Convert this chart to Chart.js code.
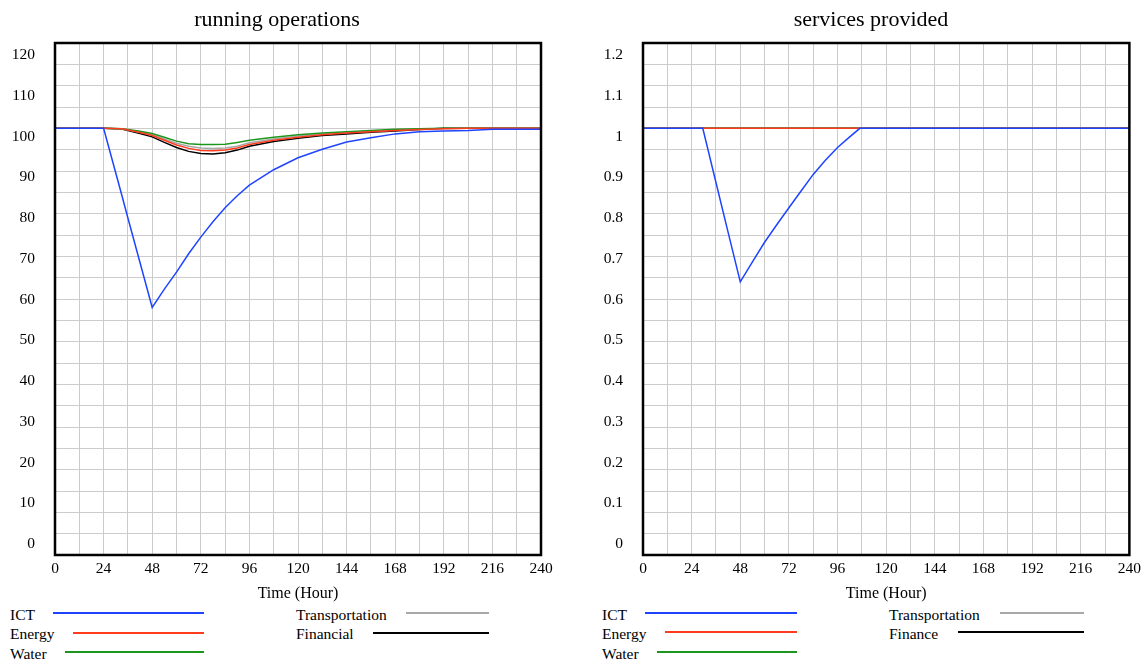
<!DOCTYPE html>
<html>
<head>
<meta charset="utf-8">
<title>running operations / services provided</title>
<script src="https://cdn.jsdelivr.net/npm/chart.js@4.4.1/dist/chart.umd.min.js"></script>
<style>
  body { margin: 0; background: #fff; }
  #page { position: relative; width: 1146px; height: 661px; overflow: hidden;
          font-family: "Liberation Serif", "Times New Roman", serif; color: #000; }
  .panel { position: absolute; top: 0; }
  .title { position: absolute; top: 6px; font-size: 22px; line-height: 26px;
           transform: translateX(-50%); white-space: nowrap; }
  .lg { position: absolute; font-size: 15.5px; line-height: 18px; white-space: nowrap; }
  .ln { position: absolute; height: 2px; }
</style>
</head>
<body>
<div id="page">
  <canvas id="opsChart" class="panel" style="left:0" width="573" height="605"></canvas>
  <canvas id="servChart" class="panel" style="left:573px" width="573" height="605"></canvas>

  <div class="title" style="left:277px">running operations</div>
  <div class="title" style="left:871px">services provided</div>

  <!-- legenda kiri -->
  <div class="lg" style="left:10px;top:606px">ICT</div>
  <div class="ln" style="left:53px;width:151px;top:612px;background:#1f44ff"></div>
  <div class="lg" style="left:10px;top:625px">Energy</div>
  <div class="ln" style="left:73px;width:131px;top:632px;background:#ff3c1e"></div>
  <div class="lg" style="left:10px;top:645px">Water</div>
  <div class="ln" style="left:65px;width:139px;top:651px;background:#1e961e"></div>
  <div class="lg" style="left:296px;top:606px">Transportation</div>
  <div class="ln" style="left:406px;width:83px;top:612px;background:#a8a8a8"></div>
  <div class="lg" style="left:296px;top:625px">Financial</div>
  <div class="ln" style="left:373px;width:116px;top:632px;background:#000"></div>

  <!-- legenda kanan -->
  <div class="lg" style="left:602px;top:606px">ICT</div>
  <div class="ln" style="left:645px;width:152px;top:612px;background:#1f44ff"></div>
  <div class="lg" style="left:602px;top:625px">Energy</div>
  <div class="ln" style="left:665px;width:132px;top:631px;background:#ff3c1e"></div>
  <div class="lg" style="left:602px;top:645px">Water</div>
  <div class="ln" style="left:657px;width:140px;top:651px;background:#1e961e"></div>
  <div class="lg" style="left:889px;top:606px">Transportation</div>
  <div class="ln" style="left:1000px;width:84px;top:612px;background:#a8a8a8"></div>
  <div class="lg" style="left:889px;top:625px">Finance</div>
  <div class="ln" style="left:958px;width:126px;top:631px;background:#000"></div>
</div>

<script>
// Data grafik kiri: running operations (jam)
const hours = [0, 24, 33, 36, 42, 48, 54, 60, 66, 72, 78, 84, 90, 96, 108, 120, 132, 144, 156, 168, 180, 192, 204, 216, 228, 240];
const ictOps       = [100, 100, 84.3, 79, 68.5, 58, 62.3, 66.3, 70.6, 74.5, 78.1, 81.4, 84.2, 86.7, 90.3, 93.1, 95.1, 96.8, 97.8, 98.7, 99.2, 99.4, 99.5, 99.8, 99.8, 99.8];
const energyOps    = [100, 100, 99.9, 99.6, 99.0, 98.3, 97.2, 96.1, 95.3, 94.8, 94.75, 94.9, 95.4, 96.2, 97.2, 97.9, 98.5, 98.9, 99.2, 99.5, 99.7, 99.9, 100, 100, 100, 100];
const waterOps     = [100, 100, 99.9, 99.7, 99.3, 98.8, 97.9, 97.0, 96.4, 96.2, 96.2, 96.25, 96.7, 97.2, 97.9, 98.5, 98.9, 99.2, 99.5, 99.8, 99.9, 100, 100, 100, 100, 100];
const transportOps = [100, 100, 99.9, 99.65, 99.1, 98.5, 97.5, 96.5, 95.8, 95.4, 95.3, 95.4, 95.8, 96.6, 97.5, 98.2, 98.7, 99.0, 99.3, 99.6, 99.8, 99.9, 100, 100, 100, 100];
const financialOps = [100, 100, 99.85, 99.5, 98.8, 98.0, 96.7, 95.5, 94.6, 94.1, 94.0, 94.3, 94.9, 95.8, 96.9, 97.7, 98.3, 98.7, 99.1, 99.4, 99.7, 100, 100, 100, 100, 100];

// Data grafik kanan: services provided
const serviceHours = [0, 29.5, 36, 42, 48, 54, 60, 66, 72, 78, 84, 90, 96, 102, 107, 120, 240];
const ictServices  = [1, 1, 0.873, 0.756, 0.64, 0.687, 0.733, 0.774, 0.814, 0.853, 0.892, 0.925, 0.955, 0.98, 1, 1, 1];
const flatHours = [0, 240];
const energyServices    = [1, 1];
const waterServices     = [1, 1];
const transportServices = [1, 1];
const financeServices   = [1, 1];

// Label sumbu
const opsTicks = [0, 10, 20, 30, 40, 50, 60, 70, 80, 90, 100, 110, 120];
const servicesTicks = [0, 0.1, 0.2, 0.3, 0.4, 0.5, 0.6, 0.7, 0.8, 0.9, 1, 1.1, 1.2];

const COLORS = { ict: '#1f44ff', energy: '#ff3c1e', water: '#1e961e', transport: '#a8a8a8', finance: '#000000' };

Chart.defaults.font.family = '"Liberation Serif", "Times New Roman", serif';
Chart.defaults.color = '#000';

const tickFont = { size: 15.5 };

// Bingkai hitam tebal di sekeliling area plot
const framePlugin = {
    id: 'frame',
    afterDatasetsDraw(chart) {
        const { ctx, chartArea: a } = chart;
        ctx.save();
        ctx.lineWidth = 2.5;
        ctx.strokeStyle = '#000';
        ctx.strokeRect(a.left, a.top, a.right - a.left, a.bottom - a.top);
        ctx.restore();
    }
};

function toPoints(xs, ys) {
    return xs.map((x, i) => ({ x: x, y: ys[i] }));
}

function line(label, xs, ys, color) {
    return {
        label: label,
        data: toPoints(xs, ys),
        borderColor: color,
        backgroundColor: color,
        borderWidth: 1.5,
        pointRadius: 0,
        tension: 0,
        fill: false
    };
}

function makeChart(id, datasets, yMax, gridStep, labelTicks, labelMin, labelMax, axisWidth, padRight) {
    return new Chart(document.getElementById(id), {
        type: 'line',
        data: { datasets: datasets },
        options: {
            responsive: false,
            animation: false,
            devicePixelRatio: 1,
            layout: { padding: { top: 43, right: padRight, left: 0, bottom: 0 } },
            plugins: { legend: { display: false }, tooltip: { enabled: false } },
            scales: {
                x: {
                    type: 'linear', min: 0, max: 240,
                    ticks: {
                        stepSize: 12, autoSkip: false, maxRotation: 0, padding: 5, font: tickFont,
                        callback: v => (v % 24 === 0 ? v : '')
                    },
                    grid: { color: '#cccccc', lineWidth: 1, drawTicks: false },
                    border: { display: false },
                    title: { display: true, text: 'Time (Hour)', font: { size: 16 }, padding: { top: 0, bottom: 2 } },
                    afterFit: s => { s.height = 50; }
                },
                y: {
                    min: 0, max: yMax,
                    ticks: { stepSize: gridStep, display: false },
                    grid: { color: '#cccccc', lineWidth: 1, drawTicks: false },
                    border: { display: false },
                    afterFit: s => { s.width = 0; }
                },
                yLabels: {
                    position: 'left', min: labelMin, max: labelMax,
                    grid: { display: false, drawTicks: false },
                    border: { display: false },
                    ticks: { padding: 20, font: tickFont, callback: v => String(+v.toFixed(2)) },
                    afterBuildTicks: s => { s.ticks = labelTicks.map(v => ({ value: v })); },
                    afterFit: s => { s.width = axisWidth; }
                }
            }
        },
        plugins: [framePlugin]
    });
}

makeChart('opsChart', [
    line('ICT', hours, ictOps, COLORS.ict),
    line('Energy', hours, energyOps, COLORS.energy),
    line('Water', hours, waterOps, COLORS.water),
    line('Transportation', hours, transportOps, COLORS.transport),
    line('Financial', hours, financialOps, COLORS.finance)
], 120, 5, opsTicks, -2.7, 122.95, 55, 32);

makeChart('servChart', [
    line('ICT', serviceHours, ictServices, COLORS.ict),
    line('Energy', flatHours, energyServices, COLORS.energy),
    line('Water', flatHours, waterServices, COLORS.water),
    line('Transportation', flatHours, transportServices, COLORS.transport),
    line('Finance', flatHours, financeServices, COLORS.finance)
], 1.2, 0.05, servicesTicks, -0.027, 1.2295, 70, 16);
</script>
</body>
</html>
